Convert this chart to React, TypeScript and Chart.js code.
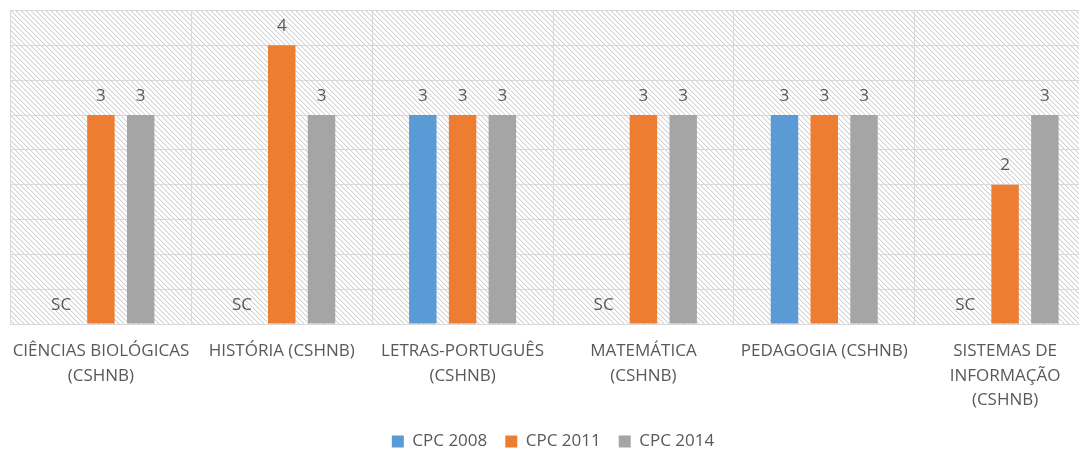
import React, { useEffect, useRef } from "react";
import { Chart, registerables } from "chart.js";

Chart.register(...registerables);

const categories: (string | string[])[] = [
  ["CIÊNCIAS BIOLÓGICAS", "(CSHNB)"],
  "HISTÓRIA (CSHNB)",
  ["LETRAS-PORTUGUÊS", "(CSHNB)"],
  ["MATEMÁTICA", "(CSHNB)"],
  "PEDAGOGIA (CSHNB)",
  ["SISTEMAS DE", "INFORMAÇÃO", "(CSHNB)"],
];

// null = "SC" (sem conceito)
const cpc2008: (number | null)[] = [null, null, 3, null, 3, null];
const cpc2011: (number | null)[] = [3, 4, 3, 3, 3, 2];
const cpc2014: (number | null)[] = [3, 3, 3, 3, 3, 3];

const seriesNames = ["CPC 2008", "CPC 2011", "CPC 2014"];
const seriesColors = ["#5B9BD5", "#ED7D31", "#A5A5A5"];
const missingLabel = "SC";

const FONT = "'Open Sans', 'Noto Sans', sans-serif";
const TEXT = "#595959";

const hatchPlugin = {
  id: "hatchBg",
  beforeDraw(chart: any) {
    const { ctx, chartArea } = chart;
    if (!chartArea) return;
    const tile = document.createElement("canvas");
    const n = 5;
    tile.width = n;
    tile.height = n;
    const tctx = tile.getContext("2d")!;
    tctx.fillStyle = "#ffffff";
    tctx.fillRect(0, 0, n, n);
    for (let y = 0; y < n; y++) {
      for (let x = 0; x < n; x++) {
        const d = (((x - y) % n) + n) % n;
        if (d === 0) {
          tctx.fillStyle = "#d2d2d2";
          tctx.fillRect(x, y, 1, 1);
        } else if (d === 1) {
          tctx.fillStyle = "#eeeeee";
          tctx.fillRect(x, y, 1, 1);
        }
      }
    }
    const pat = ctx.createPattern(tile, "repeat");
    ctx.save();
    ctx.fillStyle = pat;
    ctx.fillRect(
      chartArea.left,
      chartArea.top,
      chartArea.right - chartArea.left,
      chartArea.bottom - chartArea.top
    );
    ctx.restore();
  },
};

const labelPlugin = {
  id: "barLabels",
  afterDatasetsDraw(chart: any) {
    const { ctx } = chart;
    const raw = [cpc2008, cpc2011, cpc2014];
    ctx.save();
    ctx.font = `17px ${FONT}`;
    ctx.fillStyle = TEXT;
    ctx.textAlign = "center";
    ctx.textBaseline = "alphabetic";
    chart.data.datasets.forEach((ds: any, di: number) => {
      const meta = chart.getDatasetMeta(di);
      meta.data.forEach((el: any, i: number) => {
        const v = raw[di][i];
        const txt = v == null ? missingLabel : String(v);
        ctx.fillText(txt, el.x, el.y - 14.5);
      });
    });
    ctx.restore();
  },
};

export default function App() {
  const ref = useRef<HTMLCanvasElement>(null);
  useEffect(() => {
    if (!ref.current) return;
    const series = [cpc2008, cpc2011, cpc2014];
    const chart = new Chart(ref.current, {
      type: "bar",
      data: {
        labels: categories,
        datasets: series.map((s, i) => ({
          label: seriesNames[i],
          data: s.map((v) => (v == null ? 0 : v)),
          backgroundColor: seriesColors[i],
          borderWidth: 0,
          categoryPercentage: 0.66,
          barPercentage: 0.69,
        })),
      },
      options: {
        responsive: false,
        animation: false,
        devicePixelRatio: 1,
        layout: { padding: { left: 10.5, right: 10.5, top: 10.5, bottom: 2 } },
        plugins: {
          legend: {
            position: "bottom",
            labels: {
              boxWidth: 12,
              boxHeight: 12,
              padding: 18,
              color: TEXT,
              font: { family: FONT, size: 17 },
            },
          },
          tooltip: { enabled: false },
        },
        scales: {
          x: {
            grid: { color: "#d9d9d9", drawTicks: false, offset: true },
            border: { color: "#d9d9d9" },
            ticks: {
              color: TEXT,
              font: { family: FONT, size: 17, lineHeight: 1.44 },
              maxRotation: 0,
              minRotation: 0,
              autoSkip: false,
              padding: 15,
            },
            afterFit(scale: any) {
              scale.paddingLeft = 0;
              scale.paddingRight = 0;
              scale.height = 91;
            },
          },
          y: {
            min: 0,
            max: 4.5,
            grid: { color: "#d9d9d9", drawTicks: false },
            border: { display: false },
            ticks: { display: false, stepSize: 0.5 },
          },
        },
      },
      plugins: [hatchPlugin, labelPlugin],
    });
    return () => chart.destroy();
  }, []);
  return (
    <div
      style={{
        position: "fixed",
        left: 0,
        top: 0,
        width: 1079,
        height: 454,
        overflow: "hidden",
        background: "#ffffff",
      }}
    >
      <canvas ref={ref} width={1106} height={462} style={{ display: "block" }} />
    </div>
  );
}
